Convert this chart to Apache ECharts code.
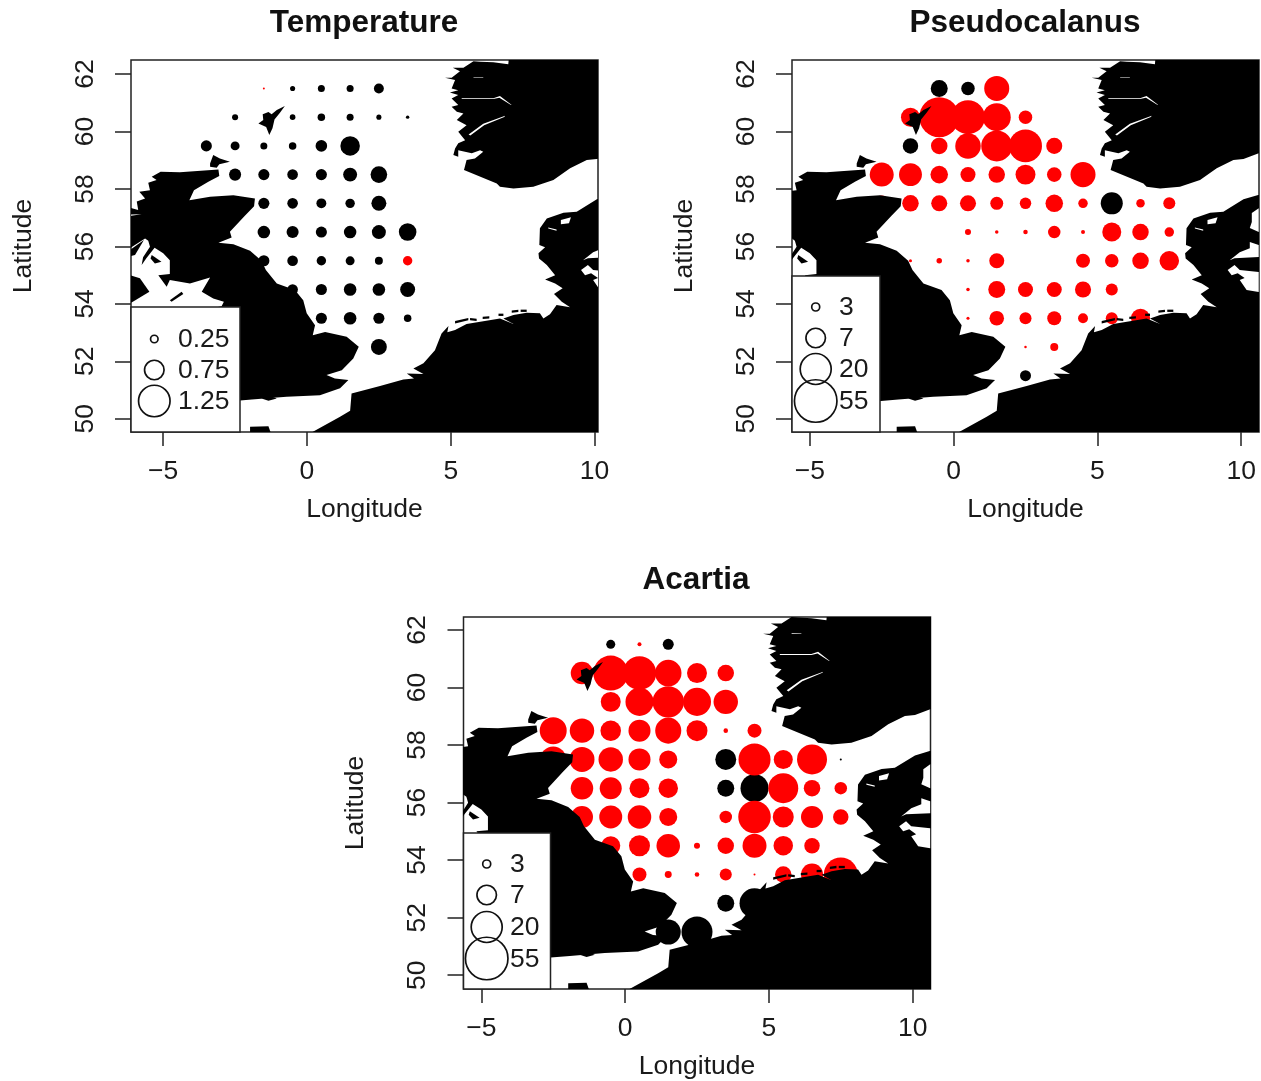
<!DOCTYPE html>
<html>
<head>
<meta charset="utf-8">
<style>html,body{margin:0;padding:0;background:#fff}#c{width:1261px;height:1081px}</style>
<script src="https://cdn.jsdelivr.net/npm/echarts@6/dist/echarts.min.js"></script>
</head>
<body>
<div id="c"></div>
<script>
var xTicks = [-5, 0, 5, 10];
var yTicks = [50, 52, 54, 56, 58, 60, 62];
var titles = ['Temperature', 'Pseudocalanus', 'Acartia'];

// Values are [longitude, latitude, magnitude]
var tempBlack = [
 [-0.5,61.5,.15],[0.5,61.5,.23],[1.5,61.5,.23],[2.5,61.5,.35],
 [-2.5,60.5,.19],[-0.5,60.5,.17],[0.5,60.5,.25],[1.5,60.5,.23],[2.5,60.5,.15],[3.5,60.5,.08],
 [-3.5,59.5,.40],[-2.5,59.5,.31],[-1.5,59.5,.23],[-0.5,59.5,.25],[0.5,59.5,.42],[1.5,59.5,.75],
 [-2.5,58.5,.44],[-1.5,58.5,.40],[-0.5,58.5,.38],[0.5,58.5,.40],[1.5,58.5,.52],[2.5,58.5,.63],
 [-1.5,57.5,.40],[-0.5,57.5,.38],[0.5,57.5,.35],[1.5,57.5,.33],[2.5,57.5,.56],
 [-1.5,56.5,.46],[-0.5,56.5,.44],[0.5,56.5,.40],[1.5,56.5,.46],[2.5,56.5,.52],[3.5,56.5,.67],
 [-1.5,55.5,.40],[-0.5,55.5,.38],[0.5,55.5,.33],[1.5,55.5,.31],[2.5,55.5,.27],
 [-0.5,54.5,.38],[0.5,54.5,.40],[1.5,54.5,.46],[2.5,54.5,.46],[3.5,54.5,.56],
 [0.5,53.5,.40],[1.5,53.5,.46],[2.5,53.5,.40],[3.5,53.5,.25],
 [2.5,52.5,.60]
];
var tempRed = [[-1.5,61.5,.02],[3.5,55.5,.33]];

var pseudoRed = [
 [1.5,61.5,2.48],
 [-1.5,60.5,1.96],[-0.5,60.5,3.78],[0.5,60.5,3.26],[1.5,60.5,2.74],[2.5,60.5,1.48],
 [-0.5,59.5,1.74],[0.5,59.5,2.52],[1.5,59.5,3.00],[2.5,59.5,3.17],[3.5,59.5,1.70],
 [-2.5,58.5,2.39],[-1.5,58.5,2.30],[-0.5,58.5,1.83],[0.5,58.5,1.61],[1.5,58.5,1.74],[2.5,58.5,2.04],[3.5,58.5,1.57],[4.5,58.5,2.48],
 [-2.5,57.5,1.65],[-1.5,57.5,1.74],[-0.5,57.5,1.70],[0.5,57.5,1.70],[1.5,57.5,1.43],[2.5,57.5,1.30],[3.5,57.5,1.83],[4.5,57.5,1.13],[6.5,57.5,1.04],[7.5,57.5,1.35],
 [0.5,56.5,.83],[1.5,56.5,.61],[2.5,56.5,.70],[3.5,56.5,1.39],[4.5,56.5,.65],[5.5,56.5,1.96],[6.5,56.5,1.74],[7.5,56.5,1.13],
 [-1.5,55.5,.57],[-0.5,55.5,.78],[0.5,55.5,.61],[1.5,55.5,1.61],[4.5,55.5,1.52],[5.5,55.5,1.48],[6.5,55.5,1.74],[7.5,55.5,2.00],
 [0.5,54.5,.61],[1.5,54.5,1.78],[2.5,54.5,1.61],[3.5,54.5,1.61],[4.5,54.5,1.70],[5.5,54.5,1.35],
 [0.5,53.5,.57],[1.5,53.5,1.57],[2.5,53.5,1.35],[3.5,53.5,1.52],[4.5,53.5,1.17],[5.5,53.5,1.35],[6.5,53.5,1.96],
 [2.5,52.5,.52],[3.5,52.5,1.00]
];
var pseudoBlack = [[-0.5,61.5,1.78],[0.5,61.5,1.48],[-1.5,59.5,1.65],[5.5,57.5,2.22],[2.5,51.5,1.26]];

var acartiaRed = [
 [0.5,61.5,.65],
 [-1.5,60.5,2.26],[-0.5,60.5,3.35],[0.5,60.5,3.22],[1.5,60.5,2.61],[2.5,60.5,2.04],[3.5,60.5,1.74],
 [-0.5,59.5,2.04],[0.5,59.5,2.74],[1.5,59.5,3.04],[2.5,59.5,2.74],[3.5,59.5,2.43],
 [-2.5,58.5,2.65],[-1.5,58.5,2.43],[-0.5,58.5,2.09],[0.5,58.5,2.22],[1.5,58.5,2.57],[2.5,58.5,2.13],[3.5,58.5,.70],[4.5,58.5,1.52],
 [-2.5,57.5,2.57],[-1.5,57.5,2.48],[-0.5,57.5,2.43],[0.5,57.5,2.22],[1.5,57.5,1.87],[4.5,57.5,3.09],[5.5,57.5,1.96],[6.5,57.5,2.91],
 [-1.5,56.5,2.26],[-0.5,56.5,2.22],[0.5,56.5,2.04],[1.5,56.5,2.00],[5.5,56.5,2.91],[6.5,56.5,1.74],[7.5,56.5,1.39],
 [-1.5,55.5,2.22],[-0.5,55.5,2.30],[0.5,55.5,2.35],[1.5,55.5,1.87],[3.5,55.5,1.39],[4.5,55.5,3.13],[5.5,55.5,2.13],[6.5,55.5,2.22],[7.5,55.5,1.65],
 [-0.5,54.5,1.96],[0.5,54.5,2.13],[1.5,54.5,2.35],[2.5,54.5,.83],[3.5,54.5,1.74],[4.5,54.5,2.39],[5.5,54.5,2.00],[6.5,54.5,1.65],
 [0.5,53.5,1.52],[1.5,53.5,.91],[2.5,53.5,.70],[3.5,53.5,1.35],[4.5,53.5,.48],[5.5,53.5,1.74],[6.5,53.5,2.22],[7.5,53.5,3.26]
];
var acartiaBlack = [[-0.5,61.5,1.09],[1.5,61.5,1.26],[3.5,57.5,2.13],[7.5,57.5,.48],[3.5,56.5,1.78],[4.5,56.5,2.74],[3.5,52.5,1.78],[4.5,52.5,2.91],[1.5,51.5,2.48],[2.5,51.5,3.00]];

var tempLegendValues = [0.25, 0.75, 1.25];
var tempLegendLabels = ['0.25', '0.75', '1.25'];
var copepodLegendValues = [1, 2, 3, 4];
var copepodLegendLabels = ['3', '7', '20', '55'];

// Land outlines as [lon, lat]
var britain = [[-5.09,58.60],[-4.42,58.58],[-3.08,58.68],[-3.05,58.45],[-3.43,58.25],[-3.93,57.96],[-4.09,57.61],[-3.37,57.73],[-2.56,57.78],[-1.81,57.67],[-1.84,57.40],[-2.16,57.07],[-2.68,56.51],[-2.62,56.31],[-3.08,56.13],[-2.56,56.08],[-1.98,55.85],[-1.58,55.50],[-1.43,55.18],[-1.05,54.71],[-0.42,54.48],[-0.13,54.13],[-0.01,53.67],[0.28,53.26],[0.20,52.91],[0.63,53.02],[1.38,52.86],[1.80,52.51],[1.61,52.10],[1.21,51.69],[0.68,51.52],[0.97,51.40],[1.44,51.35],[1.15,51.06],[0.45,50.82],[-0.71,50.77],[-1.92,50.67],[-3.03,50.58],[-4.19,50.58],[-4.19,53.67],[-2.97,53.92],[-2.89,54.07],[-3.26,54.19],[-3.66,54.42],[-3.37,54.92],[-4.07,54.71],[-4.77,54.83],[-4.88,54.60],[-5.17,55.00],[-4.77,55.04],[-4.77,55.52],[-5.00,55.76],[-5.30,55.95],[-5.58,55.60],[-5.75,55.35],[-5.70,55.62],[-5.46,55.99],[-5.52,56.20],[-5.63,56.28],[-6.27,55.87],[-6.27,57.38],[-5.87,57.27],[-5.92,57.56],[-5.63,57.67],[-5.83,57.90],[-5.46,57.96],[-5.52,58.22],[-5.23,58.31],[-5.40,58.43]];
var islay = [[-6.27,55.80],[-5.67,56.22],[-5.98,55.70],[-6.27,55.64]];
var arran = [[-5.40,55.70],[-5.06,55.47],[-5.29,55.41],[-5.44,55.58]];
var orkney = [[-3.37,58.89],[-3.26,59.18],[-3.03,59.06],[-2.68,58.95],[-3.05,58.86],[-3.14,58.74],[-3.37,58.77]];
var shetland = [[-1.69,60.28],[-1.52,60.40],[-1.54,60.60],[-1.34,60.68],[-1.23,60.60],[-1.05,60.75],[-0.77,60.89],[-0.94,60.65],[-1.13,60.42],[-1.20,60.11],[-1.31,59.88],[-1.42,60.16]];
var ireland = [[-6.16,55.00],[-5.81,54.89],[-5.48,54.42],[-6.10,54.05],[-7.08,54.05],[-7.08,55.00]];
var man = [[-4.77,54.13],[-4.36,54.42],[-4.30,54.34],[-4.71,54.07]];
var wight = [[-1.58,50.71],[-1.29,50.79],[-1.05,50.71],[-1.34,50.63]];
var cherbourg = [[-1.98,49.72],[-1.34,49.74],[-1.23,49.43],[-1.98,49.43]];
var continent = [[0.10,49.49],[1.15,50.07],[1.50,50.28],[1.55,50.88],[2.54,51.14],[3.35,51.37],[3.72,51.40],[3.47,51.58],[4.05,51.56],[3.70,51.75],[4.05,51.93],[4.45,52.39],[4.68,52.97],[4.92,53.23],[4.88,53.01],[5.15,53.09],[5.55,53.30],[6.71,53.49],[7.18,53.30],[6.83,53.49],[7.18,53.61],[7.64,53.69],[8.10,53.67],[8.22,53.49],[8.45,53.64],[8.68,53.96],[9.15,53.88],[8.86,54.07],[8.59,54.34],[8.89,54.54],[8.63,54.71],[8.28,54.85],[8.63,55.00],[8.34,55.35],[8.07,55.58],[8.05,55.76],[8.28,55.97],[8.08,56.05],[8.10,56.63],[8.34,56.97],[8.92,57.17],[9.38,57.21],[10.08,57.64],[10.59,57.79],[12,57.9],[12,48],[0.10,48]];
var norway = [[7.06,63.01],[7.00,62.34],[6.48,62.41],[6.02,62.43],[5.79,62.45],[5.44,62.22],[5.07,62.22],[5.32,62.10],[5.03,61.87],[4.80,61.87],[5.15,61.79],[5.03,61.50],[5.26,61.44],[4.97,61.36],[5.26,61.27],[5.03,61.15],[5.26,60.92],[5.03,60.86],[5.21,60.69],[5.44,60.63],[5.21,60.40],[5.55,60.22],[5.26,59.99],[5.50,59.70],[5.26,59.59],[5.15,59.41],[5.09,59.18],[5.26,59.12],[5.26,59.35],[5.73,59.24],[6.02,59.35],[6.13,59.30],[5.84,59.06],[5.55,59.01],[5.46,58.66],[6.60,58.19],[6.71,58.08],[7.18,58.02],[7.87,58.08],[8.57,58.31],[9.15,58.72],[9.73,59.01],[10.08,59.04],[10.61,59.24],[12,59.24],[12,63.01]];
var wadden1 = [[5.15,53.40],[5.61,53.51],[5.61,53.43],[5.15,53.32]];
var wadden2 = [[5.67,53.51],[5.90,53.48],[5.90,53.40],[5.67,53.43]];
var wadden3 = [[6.11,53.55],[6.34,53.57],[6.34,53.49],[6.11,53.47]];
var wadden4 = [[6.66,53.66],[6.83,53.66],[6.83,53.58],[6.66,53.58]];
var wadden5 = [[7.12,53.77],[7.35,53.80],[7.35,53.72],[7.12,53.69]];
var wadden6 = [[7.43,53.80],[7.64,53.80],[7.64,53.72],[7.43,53.72]];
var landParts = [britain, islay, arran, orkney, shetland, ireland, man, wight, cherbourg, continent, norway, wadden1, wadden2, wadden3, wadden4, wadden5, wadden6];

// Inlets cut out of the land
var sognefjord = [[5.38,61.16],[6.48,61.16],[6.71,61.24],[7.12,60.92],[7.08,60.93],[6.69,61.18],[6.48,61.13],[5.38,61.13]];
var hardanger = [[5.62,59.90],[6.13,60.27],[6.89,60.55],[6.86,60.51],[6.16,60.22],[5.68,59.86]];
var nordfjord = [[5.79,61.89],[6.13,61.88],[6.13,61.86],[5.79,61.87]];
var kattegat = [[10.37,57.16],[10.61,57.33],[10.61,56.50],[10.30,56.64],[10.37,56.85]];
var beltNorth = [[10.30,56.15],[10.61,56.05],[10.61,55.63],[9.77,55.59],[9.60,55.52],[9.95,55.80],[10.30,55.94]];
var beltSouth = [[9.53,55.18],[9.77,55.35],[9.95,55.18],[10.61,55.11],[10.61,54.41],[10.19,54.48],[9.95,54.83],[10.12,54.90],[9.88,55.07],[9.67,55.00]];
var limfjord = [[8.83,56.92],[9.18,57.02],[9.11,56.81],[8.83,56.77]];
var ringkobing = [[8.39,56.66],[8.68,56.59],[8.68,56.55],[8.39,56.62]];
var hebridesNotch = [[-6.27,57.11],[-5.75,57.12],[-6.27,57.05]];
var seaParts = [sognefjord, hardanger, nordfjord, kattegat, beltNorth, beltSouth, limfjord, ringkobing, hebridesNotch];

function tempSize(v) { return 24 * v + 1.5; }
function copepodSize(v) { return 11.5 * v - 3.5; }

var FONT = '"Liberation Sans", Arial, sans-serif';
var INK = '#1a1a1a';

var panels = [
 {left:131, top:60, width:467, height:372, xMin:-6.12, xMax:10.12, yMin:49.54, yMax:62.49, cx:364, titleTop:7,
  black:tempBlack, red:tempRed, size:tempSize, legendValues:tempLegendValues, legendLabels:tempLegendLabels,
  box:{x:131,y:307,w:109,h:125}, circleX:154.3, textX:178, rowY:[340,371,402]},
 {left:792, top:60, width:467, height:372, xMin:-5.62, xMax:10.62, yMin:49.54, yMax:62.49, cx:1025, titleTop:7,
  black:pseudoBlack, red:pseudoRed, size:copepodSize, legendValues:copepodLegendValues, legendLabels:copepodLegendLabels,
  box:{x:792,y:276,w:88,h:156}, circleX:815.7, textX:839, rowY:[308,339,370,402]},
 {left:463.5, top:617, width:467, height:372, xMin:-5.62, xMax:10.62, yMin:49.52, yMax:62.45, cx:696, titleTop:564,
  black:acartiaBlack, red:acartiaRed, size:copepodSize, legendValues:copepodLegendValues, legendLabels:copepodLegendLabels,
  box:{x:463.5,y:833,w:87,h:156}, circleX:486.7, textX:510, rowY:[865,896,928,959.5]}
];

function polySeries(parts, color, idx, z) {
  return {
    type:'custom', coordinateSystem:'cartesian2d', xAxisIndex:idx, yAxisIndex:idx, z:z, clip:true, silent:true,
    data: parts.map(function(_, i){ return [i]; }),
    encode:{x:[], y:[]},
    renderItem:function(params, api){
      var pts = parts[params.dataIndex].map(function(p){ return api.coord(p); });
      return {type:'polygon', shape:{points:pts}, style:{fill:color}};
    }
  };
}
function dotSeries(data, color, size, idx) {
  return {
    type:'scatter', xAxisIndex:idx, yAxisIndex:idx, z:2, silent:true, data:data,
    symbol:'circle', symbolSize:function(d){ return size(d[2]); },
    itemStyle:{color:color, borderWidth:0, opacity:1}
  };
}

var option = {backgroundColor:'#fff', animation:false, title:[], grid:[], xAxis:[], yAxis:[], series:[], graphic:[]};
var textBase = {fontFamily:FONT, fontSize:26.5, color:INK};

panels.forEach(function(p, i){
  option.title.push({text:titles[i], left:p.cx, top:p.titleTop, textAlign:'center', padding:0,
    textStyle:{fontFamily:FONT, fontSize:31.5, fontWeight:'bold', color:'#111'}});
  option.grid.push({left:p.left, top:p.top, width:p.width, height:p.height, show:true, borderColor:'#222', borderWidth:1.5, backgroundColor:'#fff', z:0});
  option.xAxis.push({type:'value', gridIndex:i, min:p.xMin, max:p.xMax, splitLine:{show:false},
    name:'Longitude', nameLocation:'middle', nameGap:64, nameTextStyle:textBase,
    axisLine:{show:false, onZero:false},
    axisTick:{show:true, length:14, customValues:xTicks, lineStyle:{color:'#222', width:1.5}},
    axisLabel:Object.assign({show:true, margin:26, customValues:xTicks, showMinLabel:true, showMaxLabel:true,
      formatter:function(v){ return v < 0 ? '\u2212' + Math.abs(v) : String(v); }}, textBase)});
  option.yAxis.push({type:'value', gridIndex:i, min:p.yMin, max:p.yMax, splitLine:{show:false},
    name:'Latitude', nameLocation:'middle', nameGap:94, nameRotate:90, nameTextStyle:textBase,
    axisLine:{show:false, onZero:false},
    axisTick:{show:true, length:16, customValues:yTicks, lineStyle:{color:'#222', width:1.5}},
    axisLabel:Object.assign({show:true, margin:32, rotate:90, customValues:yTicks}, textBase)});
  option.series.push(dotSeries(p.black, '#000', p.size, i));
  option.series.push(dotSeries(p.red, '#ff0000', p.size, i));
  option.series.push(polySeries(landParts, '#000', i, 3));
  option.series.push(polySeries(seaParts, '#fff', i, 4));

  option.graphic.push({type:'rect', z:100, shape:{x:p.box.x, y:p.box.y, width:p.box.w, height:p.box.h},
    style:{fill:'#fff', stroke:'#222', lineWidth:1.5}});
  p.legendValues.forEach(function(v, k){
    option.graphic.push({type:'circle', z:101, shape:{cx:p.circleX, cy:p.rowY[k]-1, r:p.size(v)/2},
      style:{fill:'rgba(0,0,0,0)', stroke:'#111', lineWidth:1.7}});
    option.graphic.push({type:'text', z:101, x:p.textX, y:p.rowY[k],
      style:{text:p.legendLabels[k], fontFamily:FONT, fontSize:26.5, fill:INK, textAlign:'left', textVerticalAlign:'middle', verticalAlign:'middle'}});
  });
});

echarts.init(document.getElementById('c'), null, {renderer:'canvas'}).setOption(option);
</script>
</body>
</html>
